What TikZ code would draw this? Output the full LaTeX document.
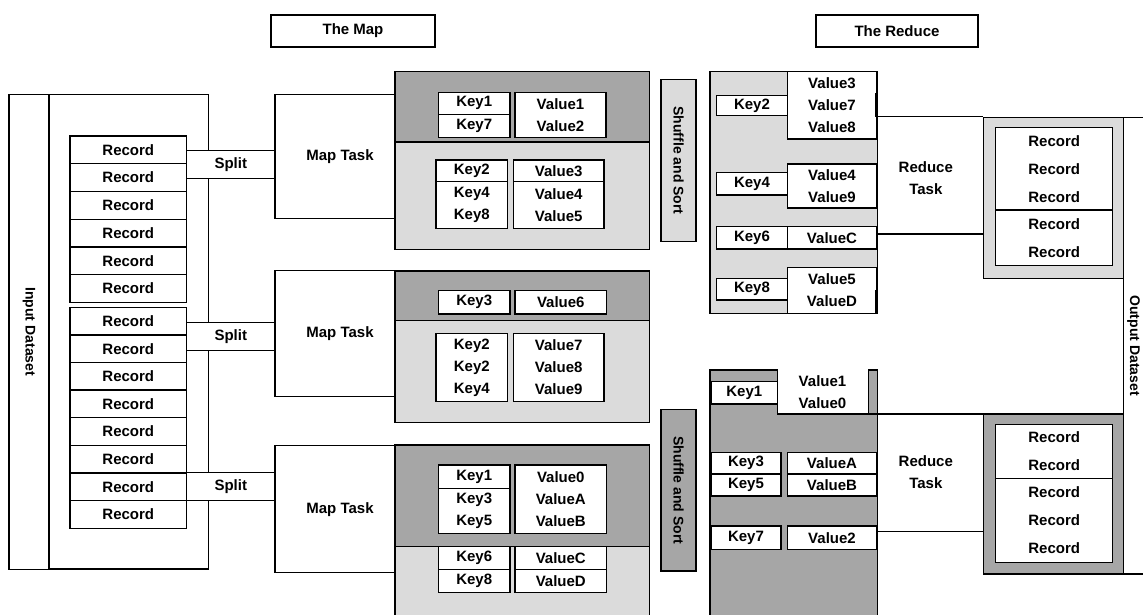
\documentclass[tikz,border=0pt]{standalone}
\usepackage{fontspec}
\setmainfont{Liberation Sans}
\definecolor{darkfill}{gray}{0.65}
\definecolor{lightfill}{gray}{0.86}

\begin{document}
\begin{tikzpicture}[
  x=1pt, y=-1pt, line width=1.3pt,
  font=\fontsize{15}{22}\selectfont\bfseries,
  box/.style={draw, fill=white, inner sep=0pt, align=center},
  sz/.style 2 args={minimum width=#1, minimum height=#2},
  rec/.style={box, sz={116.7}{27.7}},
  split/.style={box, sz={88.3}{28}},
  bar/.style={draw, rotate=-90, inner sep=0pt, font=\fontsize{14}{16}\selectfont\bfseries},
  frame/.style={draw, inner sep=0pt, sz={140}{#1}},
  recs/.style={box, font=\fontsize{15}{28}\selectfont\bfseries},
  dk/.style={draw, fill=darkfill},
  lt/.style={draw, fill=lightfill}
]
  \useasboundingbox (0,0) rectangle (1143,614);

  \node[box, sz={164}{32}] (mapt) at (353,31) {The Map};
  \node[box, sz={162}{32}] (redt) at (897,31) {The Reduce};

  \node[bar, sz={475}{40}] (inds) at (29,331.7) {Input Dataset};
  \draw (49,94.3) rectangle (208.7,569);
  \foreach \i in {0,...,5}
    \node[rec] (ra\i) at (128.3,149.9+27.7*\i) {Record};
  \foreach \i in {0,...,7}
    \node[rec] (rb\i) at (128.3,321.1+27.6*\i) {Record};
  \node[split] (sp1) at (230.8,164.3) {Split};
  \node[split] (sp2) at (230.8,336.3) {Split};
  \node[split] (sp3) at (230.8,486.8) {Split};

  \node[box, sz={130}{124}] (mt1) at (340,156.3) {Map Task};
  \node[box, sz={130}{126}] (mt2) at (340,333.7) {Map Task};
  \node[box, sz={130}{127}] (mt3) at (340,509.2) {Map Task};

  \draw[dk] (395,71.7) rectangle (649.3,142);
  \draw[lt] (395,142) rectangle (649.3,249.3);
  \draw[dk] (395,271) rectangle (649.3,320.7);
  \draw[lt] (395,320.7) rectangle (649.3,422.7);
  \draw[dk] (395,445) rectangle (649.3,546.7);
  \draw[lt] (395,546.7) rectangle (649.3,630);

  \node[box, sz={71.7}{22}] (k1a) at (474.2,103.3) {Key1};
  \node[box, sz={71.7}{23.4}] (k7a) at (474.2,126) {Key7};
  \node[box, sz={91}{45.4}] (v12a) at (560.5,115) {Value1\\Value2};
  \node[box, sz={71.7}{21.7}] (k2a) at (471.8,170.8) {Key2};
  \node[box, sz={71.7}{46.6}] (k48a) at (471.8,205) {Key4\\Key8};
  \node[box, sz={90.7}{21.7}] (v3a) at (558.7,170.8) {Value3};
  \node[box, sz={90.7}{46.6}] (v45a) at (558.7,205) {Value4\\Value5};

  \node[box, sz={71.7}{23.3}] (k3b) at (474.2,302.3) {Key3};
  \node[box, sz={91.7}{23.3}] (v6b) at (560.8,302.3) {Value6};
  \node[box, sz={71.7}{68.4}] (k224b) at (471.8,367.5) {Key2\\Key2\\Key4};
  \node[box, sz={90.7}{68.4}] (v789b) at (558.7,367.5) {Value7\\Value8\\Value9};

  \node[box, sz={71.7}{23.3}] (k1c) at (474.2,476.7) {Key1};
  \node[box, sz={71.7}{45}] (k35c) at (474.2,510.8) {Key3\\Key5};
  \node[box, sz={91.7}{68.3}] (v0abc) at (560.8,499.2) {Value0\\ValueA\\ValueB};
  \node[box, sz={71.7}{22.6}] (k6c) at (474.2,558) {Key6};
  \node[box, sz={71.7}{23.4}] (k8c) at (474.2,581) {Key8};
  \node[box, sz={91.7}{22.6}] (vcc) at (560.8,558) {ValueC};
  \node[box, sz={91.7}{23.4}] (vdc) at (560.8,581) {ValueD};

  \node[bar, fill=lightfill, sz={162.4}{35}] (ss1) at (678.5,160.5) {Shuffle and Sort};
  \node[bar, fill=darkfill, sz={161.7}{35}] (ss2) at (678.5,490.2) {Shuffle and Sort};

  \draw[lt] (710,71.7) rectangle (877.7,313.3);
  \node[box, sz={89.4}{67.3}] (rv378) at (832,105.4) {Value3\\Value7\\Value8};
  \node[box, sz={70.6}{20}] (rk2) at (752,105.7) {Key2};
  \node[box, sz={89.4}{44}] (rv49) at (832,186) {Value4\\Value9};
  \node[box, sz={70.6}{22.3}] (rk4) at (752,183.9) {Key4};
  \node[box, sz={70.6}{22.3}] (rk6) at (752,237.9) {Key6};
  \node[box, sz={89.4}{22.3}] (rvc) at (832,237.9) {ValueC};
  \node[box, sz={89.4}{46}] (rv5d) at (832,290.3) {Value5\\ValueD};
  \node[box, sz={70.6}{21.7}] (rk8) at (752,289.2) {Key8};
  \draw[line width=3pt] ([xshift=-1pt,yshift=12pt]rv378.east) -- ([xshift=-1pt,yshift=-12pt]rv378.east);
  \draw[line width=3pt] ([xshift=-1pt]rv5d.east) -- ([xshift=-1pt]rv5d.south east);

  \draw[dk] (710,370) -- (777.7,370) -- (777.7,414) -- (868.3,414) -- (868.3,370)
    -- (877.7,370) -- (877.7,630) -- (710,630) -- cycle;
  \coordinate (notch) at (868.3,414);
  \node[box, sz={66.7}{22.3}] (rk1) at (744.3,392.8) {Key1};
  \node[align=center, inner sep=0pt] (rv10) at (822.5,391.7) {Value1\\Value0};
  \node[box, sz={70}{21.3}] (rk3) at (746,463.3) {Key3};
  \node[box, sz={70}{22}] (rk5) at (746,485) {Key5};
  \node[box, sz={89.4}{21.3}] (rva) at (832,463.3) {ValueA};
  \node[box, sz={89.4}{22}] (rvb) at (832,485) {ValueB};
  \node[box, sz={70}{23.3}] (rk7) at (746,537.7) {Key7};
  \node[box, sz={89.4}{23.3}] (rv2) at (832,537.7) {Value2};

  \node[frame=161, fill=lightfill] (of1) at (1053.3,197.8) {};
  \node[recs, sz={117}{82.3}] (of1a) at (1054.2,168.9) {Record\\Record\\Record};
  \node[recs, sz={117}{55.7}] (of1b) at (1054.2,237.9) {Record\\Record};
  \node[frame=160, fill=darkfill] (of2) at (1053.3,494) {};
  \node[recs, sz={117}{54}] (of2a) at (1054.2,451.3) {Record\\Record};
  \node[recs, sz={117}{84.4}] (of2b) at (1054.2,520.5) {Record\\Record\\Record};

  \node[align=center, inner sep=0pt] (rt1) at (925.8,178) {Reduce\\Task};
  \node[align=center, inner sep=0pt] (rt2) at (925.8,472.5) {Reduce\\Task};

  \node[bar, sz={456.7}{40}] (outds) at (1143.3,345.7) {};
  \node[rotate=-90, inner sep=0pt, font=\fontsize{14}{16}\selectfont\bfseries] (outtxt) at (1133.5,345.7) {Output Dataset};

  \draw (rv378.east |- of1.north) -- (of1.north west);
  \draw ([yshift=4pt]rvc.east) -- ([yshift=4pt]rvc.east -| of1.west);
  \draw (notch) -- (notch -| of2.west);
  \draw ([yshift=6pt]rv2.east) -- ([yshift=6pt]rv2.east -| of2.west);
\end{tikzpicture}
\end{document}
